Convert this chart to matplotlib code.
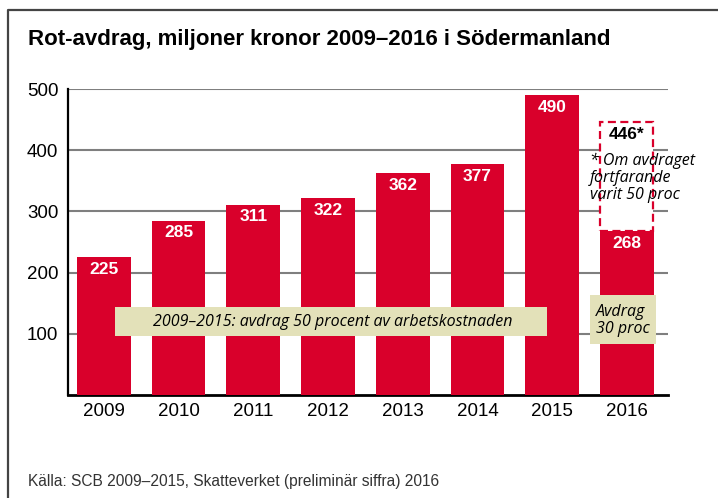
import matplotlib.pyplot as plt
from matplotlib.patches import Rectangle
from matplotlib.lines import Line2D

# data
years = ['2009', '2010', '2011', '2012', '2013', '2014', '2015', '2016']
values = [225, 285, 311, 322, 362, 377, 490, 268]
value_if_50 = 446  # 2016 if the deduction had stayed at 50 percent
yticks = [100, 200, 300, 400, 500]

red = '#d9002b'
beige = '#e3e1b9'
italic_font = ['Open Sans', 'DejaVu Sans']

plt.rcParams['font.family'] = ['Liberation Sans', 'DejaVu Sans']

fig = plt.figure(figsize=(7.18, 4.98), dpi=100)
ax = fig.add_axes([68 / 718, 1 - 395 / 498, 600 / 718, 306 / 498])

x = list(range(len(years)))
ax.set_xlim(-0.48, 7.55)
ax.set_ylim(0, 500)

# grid behind bars
for t in yticks:
    ax.axhline(t, color='#7f7f7f', lw=1.5, zorder=0)

# dashed "what if" box for 2016
ax.add_patch(Rectangle((x[-1] - 0.36, values[-1]), 0.71, value_if_50 - values[-1],
                       facecolor='white', edgecolor=red, ls=(0, (3.6, 2.0)), lw=1.6, zorder=2))

ax.bar(x, values, width=0.72, color=red, zorder=3)

for xi, v in zip(x, values):
    ax.text(xi, v - 20, str(v), color='white', fontsize=12.5, fontweight='bold',
            ha='center', va='center', zorder=5)

ax.text(x[-1], value_if_50 - 21, f'{value_if_50}*', color='black', fontsize=12.5,
        fontweight='bold', ha='center', va='center', zorder=5)
ax.text(6.51, 396, '* Om avdraget\nfortfarande\nvarit 50 proc', family=italic_font,
        style='italic', fontsize=11.5, ha='left', va='top', linespacing=1.1, zorder=6)

# annotation boxes
ax.add_patch(Rectangle((0.149, 96.4), 5.78, 47.4, facecolor=beige, edgecolor='none', zorder=4))
ax.text(3.06, 120, '2009–2015: avdrag 50 procent av arbetskostnaden', family=italic_font,
        style='italic', fontsize=11.5, ha='center', va='center', zorder=6)
ax.add_patch(Rectangle((6.508, 83), 0.883, 80, facecolor=beige, edgecolor='none', zorder=4))
ax.text(6.59, 122, 'Avdrag\n30 proc', family=italic_font, style='italic', fontsize=11.5,
        ha='left', va='center', linespacing=1.1, zorder=6)

ax.set_xticks(x)
ax.set_xticklabels(years, fontsize=13.5)
ax.set_yticks(yticks)
ax.set_yticklabels([str(t) for t in yticks], fontsize=13.5)
ax.tick_params(length=0)
ax.tick_params(axis='y', pad=7)
ax.tick_params(axis='x', pad=6)

for s in ['top', 'right']:
    ax.spines[s].set_visible(False)
ax.spines['left'].set_linewidth(1.6)
ax.spines['bottom'].set_linewidth(2)

fig.text(28 / 718, 1 - 44.5 / 498, 'Rot-avdrag, miljoner kronor 2009–2016 i Södermanland',
         fontsize=16, fontweight='bold', va='baseline', ha='left')
fig.text(28 / 718, 1 - 481 / 498, 'Källa: SCB 2009–2015, Skatteverket (preliminär siffra) 2016',
         fontsize=11.2, color='#333333', va='center', ha='left')

# outer frame (left and top)
fig.add_artist(Line2D([8 / 718, 8 / 718, 1], [0, 1 - 10 / 498, 1 - 10 / 498],
                      color='#444444', lw=1.6, transform=fig.transFigure))

fig.savefig('out.png', dpi=100)
